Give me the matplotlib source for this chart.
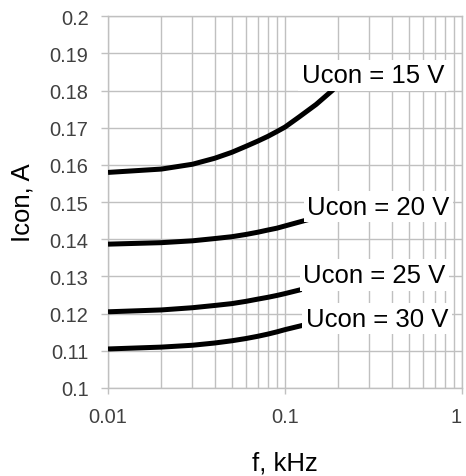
import matplotlib
matplotlib.use("Agg")
import matplotlib.pyplot as plt
from matplotlib.ticker import LogLocator, FixedLocator, NullFormatter

plt.rcParams['font.family'] = ['Liberation Sans', 'DejaVu Sans']

# Supply current vs. frequency for four control voltages
f_15 = [0.01, 0.02, 0.03, 0.04, 0.05, 0.06, 0.07, 0.08, 0.09, 0.1, 0.12, 0.15, 0.1875]
i_15 = [0.1580, 0.1589, 0.1602, 0.1618, 0.1634, 0.1650, 0.1664, 0.1677, 0.1690,
        0.1702, 0.1729, 0.1763, 0.1803]

f_20 = [0.01, 0.02, 0.03, 0.04, 0.05, 0.06, 0.07, 0.08, 0.09, 0.1, 0.145]
i_20 = [0.1387, 0.1391, 0.1396, 0.1402, 0.1407, 0.1413, 0.1419, 0.1425, 0.1430,
        0.1436, 0.1457]

f_25 = [0.01, 0.02, 0.03, 0.04, 0.05, 0.06, 0.07, 0.08, 0.09, 0.1, 0.124]
i_25 = [0.1205, 0.1210, 0.1216, 0.1222, 0.1227, 0.1233, 0.1239, 0.1244, 0.1249,
        0.1254, 0.1265]

f_30 = [0.01, 0.02, 0.03, 0.04, 0.05, 0.06, 0.07, 0.08, 0.09, 0.1, 0.127]
i_30 = [0.1105, 0.1110, 0.1115, 0.1121, 0.1127, 0.1133, 0.1139, 0.1145, 0.1151,
        0.1157, 0.1169]

labels = ["Ucon = 15 V", "Ucon = 20 V", "Ucon = 25 V", "Ucon = 30 V"]
label_x = [0.1247, 0.1336, 0.127, 0.1315]
label_y = [0.1823, 0.1469, 0.1285, 0.1168]

y_ticks = [0.1, 0.11, 0.12, 0.13, 0.14, 0.15, 0.16, 0.17, 0.18, 0.19, 0.2]
y_tick_labels = ["0.1", "0.11", "0.12", "0.13", "0.14", "0.15", "0.16",
                 "0.17", "0.18", "0.19", "0.2"]
x_ticks = [0.01, 0.1, 1]
x_tick_labels = ["0.01", "0.1", "1"]

grid_c = "#c0c0c0"

fig = plt.figure(figsize=(4.66, 4.77), dpi=100)
ax = fig.add_axes([0.2318, 0.1845, 0.9914 - 0.2318, 0.9637 - 0.1845])
ax.set_xscale("log")
ax.set_xlim(0.01, 1)
ax.set_ylim(0.1, 0.2)

ax.xaxis.set_major_locator(FixedLocator(x_ticks))
ax.set_xticklabels(x_tick_labels)
ax.xaxis.set_minor_locator(LogLocator(base=10, subs=range(2, 10)))
ax.xaxis.set_minor_formatter(NullFormatter())
ax.set_yticks(y_ticks)
ax.set_yticklabels(y_tick_labels)
# keep the last tick label inside the figure edge
ax.get_xticklabels()[-1].set_horizontalalignment("right")

ax.grid(True, which="major", color=grid_c, linewidth=1.0)
ax.grid(True, which="minor", axis="x", color=grid_c, linewidth=1.0)
ax.set_axisbelow(True)
for s in ax.spines.values():
    s.set_color(grid_c)
    s.set_linewidth(1.0)

ax.tick_params(axis="x", which="major", length=4, width=1, color=grid_c,
               pad=10, labelsize=14.4, labelcolor="#404040")
ax.tick_params(axis="x", which="minor", length=0)
ax.tick_params(axis="y", length=5, width=1, color=grid_c, pad=9,
               labelsize=14.4, labelcolor="#404040")

for fx, iy in [(f_15, i_15), (f_20, i_20), (f_25, i_25), (f_30, i_30)]:
    ax.plot(fx, iy, color="black", linewidth=3.6, solid_capstyle="butt",
            solid_joinstyle="round", zorder=3)

for txt, lx, ly in zip(labels, label_x, label_y):
    ax.text(lx, ly, txt, fontsize=18.5, color="black", ha="left", va="baseline",
            zorder=4,
            bbox=dict(facecolor="white", edgecolor="none", pad=2.5))

ax.set_xlabel("f, kHz", fontsize=18.5, labelpad=17)
ax.set_ylabel("Icon, A", fontsize=18.5, labelpad=11)

fig.savefig("out.png", dpi=100)
